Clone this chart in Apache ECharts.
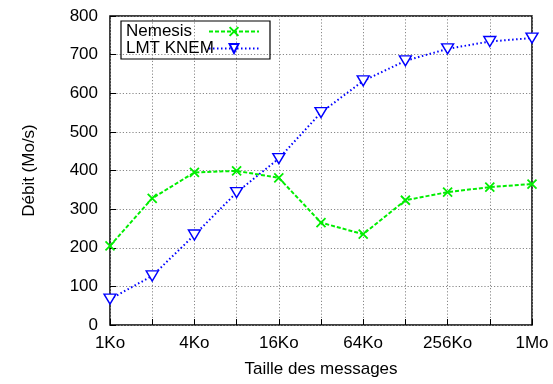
<!DOCTYPE html>
<html><head><meta charset="utf-8">
<script src="https://cdn.jsdelivr.net/npm/echarts@6/dist/echarts.min.js"></script>
<style>html,body{margin:0;padding:0;background:#fff}#c{width:553px;height:384px}</style>
</head><body><div id="c"></div>
<script>
const categories = ['1Ko','2Ko','4Ko','8Ko','16Ko','32Ko','64Ko','128Ko','256Ko','512Ko','1Mo'];
const tickLabels = ['1Ko','','4Ko','','16Ko','','64Ko','','256Ko','','1Mo'];
const nemesis = [205, 328, 395, 399, 381, 265, 235, 323, 344, 357, 365];
const lmtKnem = [67, 127, 233, 343, 431, 550, 632, 684, 715, 734, 743];

const font = 'Liberation Sans';
const chart = echarts.init(document.getElementById('c'), null, {renderer: 'canvas'});
const triPath = 'path://M0,0L10,0L5,9Z';
chart.setOption({
  animation: false,
  textStyle: {fontFamily: font},
  grid: {left: 110, right: 21, top: 16, bottom: 59, show: true, borderColor: '#000', borderWidth: 1.5},
  legend: {
    left: 121, top: 21, orient: 'vertical', align: 'right',
    itemWidth: 50, itemHeight: 11, itemGap: 0,
    padding: [2, 10, 2, 5],
    borderColor: '#000', borderWidth: 1.2,
    formatter: '{a|{name}}',
    textStyle: {fontFamily: font, fontSize: 17, color: '#000',
      rich: {a: {fontFamily: font, fontSize: 17, color: '#000', width: 78, align: 'left', lineHeight: 19}}},
    data: ['Nemesis', 'LMT KNEM']
  },
  xAxis: {
    type: 'category', data: categories, boundaryGap: false,
    axisLine: {show: false},
    axisTick: {show: true, inside: true, length: 6, lineStyle: {color: '#000'}},
    axisLabel: {color: '#000', fontSize: 17, margin: 10, interval: 0,
      formatter: (v, i) => tickLabels[i]},
    splitLine: {show: true, lineStyle: {color: '#888', type: [1.2, 2], width: 1}},
    name: 'Taille des messages', nameLocation: 'middle', nameGap: 36,
    nameTextStyle: {color: '#000', fontSize: 17, fontFamily: font}
  },
  yAxis: {
    type: 'value', min: 0, max: 800, interval: 100,
    axisLine: {show: false},
    axisTick: {show: true, inside: true, length: 6, lineStyle: {color: '#000'}},
    axisLabel: {color: '#000', fontSize: 17, margin: 12},
    splitLine: {show: true, lineStyle: {color: '#888', type: [1.2, 2], width: 1}},
    name: 'Débit (Mo/s)', nameLocation: 'middle', nameGap: 72,
    nameTextStyle: {color: '#000', fontSize: 17, fontFamily: font}
  },
  series: [
    {
      name: 'Nemesis', type: 'line', data: nemesis,
      symbol: 'path://M0,0L10,10M10,0L0,10', symbolSize: 9,
      lineStyle: {color: '#00ee00', width: 2, type: [4, 2]},
      itemStyle: {color: 'rgba(0,0,0,0)', borderColor: '#00ee00', borderWidth: 1.8}
    },
    {
      name: 'LMT KNEM', type: 'line', data: lmtKnem,
      symbol: triPath, symbolSize: [12, 10],
      lineStyle: {color: '#0000ff', width: 2, type: [1.5, 2.5]},
      itemStyle: {color: '#ffffff', borderColor: '#0000ff', borderWidth: 1.4}
    }
  ]
});
</script></body></html>
